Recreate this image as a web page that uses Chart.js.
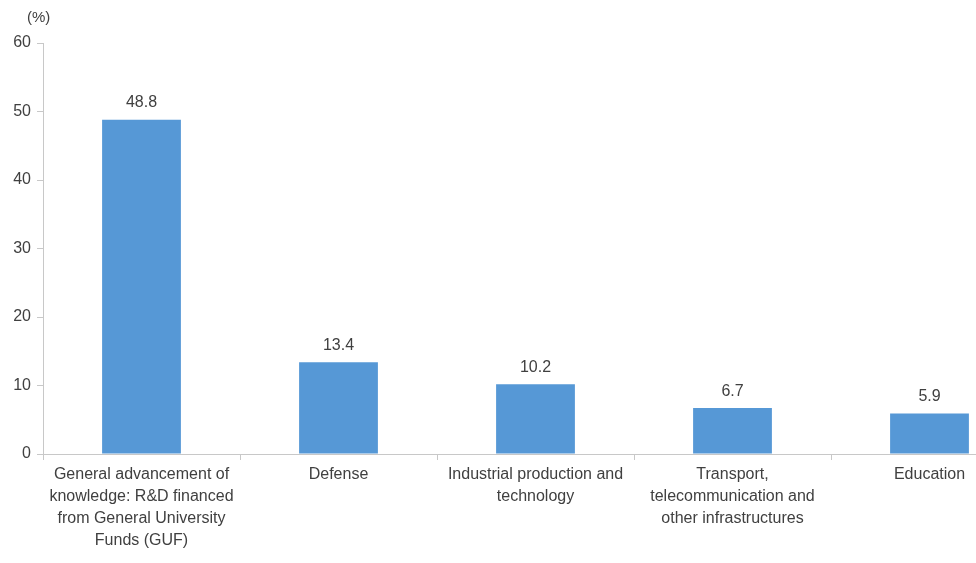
<!DOCTYPE html>
<html>
<head>
<meta charset="utf-8">
<script src="https://cdn.jsdelivr.net/npm/chart.js@4.4.0/dist/chart.umd.min.js"></script>
<style>
  html, body { margin: 0; padding: 0; background: #fff; overflow: hidden; }
  #wrap { width: 1032px; height: 563px; }
</style>
</head>
<body>
<div id="wrap"><canvas id="barChart" width="1032" height="563"></canvas></div>
<script>
// Share of government R&D budget by objective (%)
const categories = [
    ['General advancement of', 'knowledge: R&D financed', 'from General University', 'Funds (GUF)'],
    'Defense',
    ['Industrial production and', 'technology'],
    ['Transport,', 'telecommunication and', 'other infrastructures'],
    'Education'
];
const shares = [48.8, 13.4, 10.2, 6.7, 5.9];
const yTicks = [0, 10, 20, 30, 40, 50, 60];

const textColor = '#404040';
const axisColor = '#c8c8c8';
const fontFamily = '"Liberation Sans", Arial, sans-serif';

// value labels above each bar plus the unit label over the y axis
const barLabels = {
    id: 'barLabels',
    afterDatasetsDraw(chart) {
        const ctx = chart.ctx;
        ctx.save();
        ctx.fillStyle = textColor;
        ctx.font = '16px ' + fontFamily;
        ctx.textAlign = 'center';
        ctx.textBaseline = 'bottom';
        chart.getDatasetMeta(0).data.forEach((bar, i) => {
            ctx.fillText(shares[i].toFixed(1), bar.x, bar.y - 9);
        });
        ctx.textAlign = 'left';
        ctx.textBaseline = 'middle';
        ctx.font = '15px ' + fontFamily;
        ctx.fillText('(%)', 27, 18);
        ctx.restore();
    }
};

const ctx = document.getElementById('barChart').getContext('2d');

new Chart(ctx, {
    type: 'bar',
    data: {
        labels: categories,
        datasets: [{
            data: shares,
            backgroundColor: '#5698d6',
            barPercentage: 0.4,
            categoryPercentage: 1.0
        }]
    },
    options: {
        responsive: false,
        animation: false,
        layout: { padding: { top: 43, right: 4, left: 0, bottom: 0 } },
        plugins: {
            legend: { display: false },
            tooltip: { enabled: false }
        },
        scales: {
            x: {
                grid: {
                    offset: true,
                    drawOnChartArea: false,
                    drawTicks: true,
                    tickLength: 6,
                    color: axisColor
                },
                border: { color: axisColor },
                ticks: {
                    color: textColor,
                    padding: 4,
                    maxRotation: 0,
                    autoSkip: false,
                    font: { family: fontFamily, size: 16, lineHeight: 1.375 }
                },
                afterFit(scale) { scale.height = 109; }
            },
            y: {
                min: 0,
                max: 60,
                afterBuildTicks(scale) {
                    scale.ticks = yTicks.map(v => ({ value: v }));
                },
                grid: {
                    drawOnChartArea: false,
                    drawTicks: true,
                    tickLength: 6,
                    color: axisColor
                },
                border: { color: axisColor },
                ticks: {
                    color: textColor,
                    padding: 6,
                    font: { family: fontFamily, size: 16 }
                },
                afterFit(scale) { scale.width = 43; }
            }
        }
    },
    plugins: [barLabels]
});
</script>
</body>
</html>
